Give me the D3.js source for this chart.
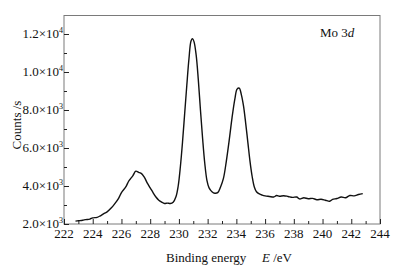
<!DOCTYPE html>
<html>
<head>
<meta charset="utf-8">
<script src="https://cdn.jsdelivr.net/npm/d3@7"></script>
<style>
  body { margin: 0; background: #fff; }
  svg text { font-family: "Times New Roman", "Liberation Serif", "DejaVu Serif", serif; fill: #111; }
</style>
</head>
<body>
<svg></svg>
<script>
// binding energy (eV) and counts per second
let energy = [
  222.8, 223.0, 223.3, 223.5, 223.8, 224.0, 224.3, 224.5, 224.8, 225.0,
  225.3, 225.5, 225.8, 226.0, 226.3, 226.5, 226.8, 227.0, 227.2, 227.4,
  227.6, 227.8, 228.0, 228.2, 228.4, 228.6, 228.8, 229.0, 229.2, 229.4,
  229.6, 229.8, 229.95, 230.1, 230.25, 230.4, 230.55, 230.7, 230.85, 230.95,
  231.05, 231.2, 231.35, 231.5, 231.65, 231.8, 231.95, 232.1, 232.3, 232.5,
  232.7, 232.9, 233.1, 233.3, 233.5, 233.7, 233.9, 234.05, 234.2, 234.35,
  234.5, 234.65, 234.8, 234.95, 235.1, 235.25, 235.4, 235.6, 235.8, 236.0,
  236.3, 236.6, 236.8, 237.0, 237.3, 237.6, 237.9, 238.2, 238.4, 238.7,
  239.0, 239.3, 239.6, 239.9, 240.2, 240.5, 240.7, 241.0, 241.3, 241.6,
  241.9, 242.2, 242.5, 242.8
]
let counts = [
  2150, 2170, 2200, 2230, 2260, 2320, 2350, 2420, 2560, 2640,
  2850, 3030, 3350, 3650, 3950, 4250, 4550, 4780, 4720, 4650,
  4450, 4150, 3900, 3650, 3420, 3250, 3150, 3080, 3100, 3080,
  3150, 3450, 4000, 5000, 6300, 7800, 9300, 10700, 11650, 11750,
  11600, 10900, 9600, 8000, 6500, 5200, 4300, 3900, 3700, 3620,
  3650, 3950, 4400, 5300, 6400, 7600, 8600, 9100, 9150, 8800,
  8200, 7300, 6300, 5300, 4500, 3950, 3700, 3580, 3520, 3480,
  3450, 3420, 3500, 3460, 3490, 3450, 3400, 3420, 3320, 3380,
  3330, 3350, 3280, 3300, 3250, 3200, 3300, 3340, 3420, 3380,
  3500, 3480, 3550, 3600
]

let xTicks = [222, 224, 226, 228, 230, 232, 234, 236, 238, 240, 242, 244]
let xMinor = [223, 225, 227, 229, 231, 233, 235, 237, 239, 241, 243]
let yTicks = [2000, 4000, 6000, 8000, 10000, 12000]
let yMantissa = ["2.0", "4.0", "6.0", "8.0", "1.0", "1.2"]
let yExponent = ["3", "3", "3", "3", "4", "4"]
let yMinor = [3000, 5000, 7000, 9000, 11000]

let width = 408
let height = 273
let plotLeft = 64
let plotRight = 380
let plotTop = 15.5
let plotBottom = 224

let svg = d3.select('svg')
  .attr('width', width)
  .attr('height', height)
  .attr('font-family', '"Times New Roman", "Liberation Serif", serif')

let xScale = d3.scaleLinear()
  .domain([222, 244])
  .range([plotLeft, plotRight])

let yScale = d3.scaleLinear()
  .domain([2000, 12000])
  .range([plotBottom, 34])

let axisColor = '#7a7a7a'

// frame
svg.append('rect')
  .attr('x', plotLeft)
  .attr('y', plotTop)
  .attr('width', plotRight - plotLeft)
  .attr('height', plotBottom - plotTop)
  .attr('fill', 'none')
  .attr('stroke', axisColor)
  .attr('stroke-width', 1)

// x axis, ticks pointing inward
let xAxis = d3.axisTop(xScale).tickValues(xTicks).tickSize(5).tickFormat('')
let xAxisMinor = d3.axisTop(xScale).tickValues(xMinor).tickSize(3).tickFormat('')

svg.append('g')
  .attr('transform', 'translate(0,' + plotBottom + ')')
  .call(xAxis)
  .call(g => g.select('.domain').remove())
  .call(g => g.selectAll('line').attr('stroke', '#222'))

svg.append('g')
  .attr('transform', 'translate(0,' + plotBottom + ')')
  .call(xAxisMinor)
  .call(g => g.select('.domain').remove())
  .call(g => g.selectAll('line').attr('stroke', '#222'))

svg.append('g')
  .selectAll('text')
  .data(xTicks)
  .enter()
  .append('text')
  .attr('x', d => xScale(d))
  .attr('y', plotBottom + 14)
  .attr('text-anchor', 'middle')
  .style('font-size', '13px')
  .text(d => d)

// y axis
let yAxis = d3.axisRight(yScale).tickValues(yTicks).tickSize(5).tickFormat('')
let yAxisMinor = d3.axisRight(yScale).tickValues(yMinor).tickSize(3).tickFormat('')

svg.append('g')
  .attr('transform', 'translate(' + plotLeft + ',0)')
  .call(yAxis)
  .call(g => g.select('.domain').remove())
  .call(g => g.selectAll('line').attr('stroke', '#222'))

svg.append('g')
  .attr('transform', 'translate(' + plotLeft + ',0)')
  .call(yAxisMinor)
  .call(g => g.select('.domain').remove())
  .call(g => g.selectAll('line').attr('stroke', '#222'))

let yLabels = svg.append('g')
  .selectAll('text')
  .data(yTicks)
  .enter()
  .append('text')
  .attr('x', plotLeft - 1)
  .attr('y', d => yScale(d) + 4)
  .attr('text-anchor', 'end')
  .style('font-size', '13px')

yLabels.append('tspan')
  .text((d, i) => yMantissa[i] + '×10')
yLabels.append('tspan')
  .attr('dy', -5)
  .style('font-size', '8px')
  .text((d, i) => yExponent[i])

// spectrum
let line = d3.line()
  .x((d, i) => xScale(energy[i]))
  .y(d => yScale(d))
  .curve(d3.curveCatmullRom)

svg.append('path')
  .datum(counts)
  .attr('d', line)
  .attr('fill', 'none')
  .attr('stroke', '#111')
  .attr('stroke-width', 1.4)

// titles
svg.append('text')
  .attr('transform', 'translate(21,125) rotate(-90)')
  .attr('text-anchor', 'middle')
  .style('font-size', '13px')
  .text('Counts /s')

let xTitle = svg.append('text')
  .attr('x', 166)
  .attr('y', 262)
  .style('font-size', '13px')
xTitle.append('tspan').text('Binding energy')
xTitle.append('tspan').attr('x', 262).style('font-style', 'italic').text('E')
xTitle.append('tspan').text(' /eV')

let mo = svg.append('text')
  .attr('x', 320)
  .attr('y', 37)
  .style('font-size', '13px')
mo.append('tspan').text('Mo 3')
mo.append('tspan').style('font-style', 'italic').text('d')
</script>
</body>
</html>
